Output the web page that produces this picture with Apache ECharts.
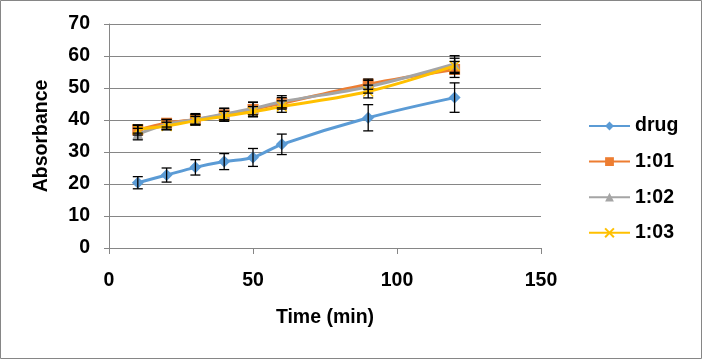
<!DOCTYPE html>
<html><head><meta charset="utf-8">
<script src="https://cdn.jsdelivr.net/npm/echarts@6/dist/echarts.min.js"></script>
<style>html,body{margin:0;padding:0;background:#fff}#c{width:703px;height:360px}</style>
</head><body><div id="c"></div>
<script>
const times = [10, 20, 30, 40, 50, 60, 90, 120];
const seriesNames = ['drug', '1:01', '1:02', '1:03'];
const drug = [20.4, 22.8, 25.2, 27.0, 28.3, 32.4, 40.7, 47.0];
const r1 = [36.9, 39.0, 40.2, 41.6, 43.3, 45.2, 51.2, 55.8];
const r2 = [35.6, 38.6, 40.2, 41.9, 43.6, 45.7, 50.4, 57.5];
const r3 = [37.1, 38.1, 39.8, 41.2, 42.6, 44.2, 48.9, 56.9];
const drugErr = [1.9, 2.2, 2.4, 2.5, 2.8, 3.2, 4.1, 4.6];
const r1Err = [1.6, 1.2, 1.8, 2.0, 2.2, 1.8, 1.6, 2.5];
const r2Err = [1.8, 1.5, 1.5, 1.8, 2.0, 1.9, 2.0, 2.6];
const r3Err = [1.2, 1.2, 1.3, 1.5, 1.6, 1.8, 2.0, 2.4];
const yTicks = [0, 10, 20, 30, 40, 50, 60, 70];
const xTicks = [0, 50, 100, 150];

const FONT = 'Liberation Sans, Arial, sans-serif';
const FS = 19.5;
const colors = ['#5B9BD5', '#ED7D31', '#A5A5A5', '#FFC000'];
const values = [drug, r1, r2, r3];
const errs = [drugErr, r1Err, r2Err, r3Err];
const symbols = ['diamond', 'rect', 'triangle', 'path://M0,0L10,10M10,0L0,10'];
const sizes = [12, 11, 11, 10];

const series = [];
values.forEach((vals, i) => {
  series.push({
    name: seriesNames[i], type: 'line', smooth: 0.35,
    data: times.map((t, k) => [t, vals[k]]),
    symbol: symbols[i], symbolSize: sizes[i],
    lineStyle: {color: colors[i], width: 3},
    itemStyle: i === 3 ? {color: colors[i], borderColor: colors[i], borderWidth: 1.5} : {color: colors[i]},
    z: 3 + i
  });
});
values.forEach((vals, i) => {
  series.push({
    type: 'custom', name: 'err' + i, silent: true,
    data: times.map((t, k) => [t, vals[k] - errs[i][k], vals[k] + errs[i][k]]),
    renderItem: function (params, api) {
      const lo = api.coord([api.value(0), api.value(1)]);
      const hi = api.coord([api.value(0), api.value(2)]);
      const w = 5;
      const st = {stroke: '#000', lineWidth: 1.3};
      return {type: 'group', children: [
        {type: 'line', shape: {x1: lo[0], y1: lo[1], x2: hi[0], y2: hi[1]}, style: st},
        {type: 'line', shape: {x1: lo[0] - w, y1: lo[1], x2: lo[0] + w, y2: lo[1]}, style: st},
        {type: 'line', shape: {x1: hi[0] - w, y1: hi[1], x2: hi[0] + w, y2: hi[1]}, style: st}
      ]};
    },
    z: 10
  });
});

const chart = echarts.init(document.getElementById('c'));
chart.setOption({
  animation: false,
  backgroundColor: '#fff',
  textStyle: {fontFamily: FONT},
  graphic: [{type: 'rect', shape: {x: 0.5, y: 0.5, width: 701, height: 358}, style: {fill: 'none', stroke: '#868686', lineWidth: 1}, silent: true}],
  grid: {left: 109, right: 162, top: 24, bottom: 112},
  legend: {
    data: seriesNames, orient: 'vertical', left: 583, top: 111,
    itemWidth: 41, itemHeight: 11, itemGap: 15.6,
    textStyle: {fontSize: FS, fontWeight: 'bold', color: '#000', fontFamily: FONT}
  },
  xAxis: {
    type: 'value', min: xTicks[0], max: xTicks[xTicks.length - 1], interval: 50,
    name: 'Time (min)', nameLocation: 'middle', nameGap: 60,
    nameTextStyle: {fontSize: FS, fontWeight: 'bold', color: '#000'},
    axisLine: {show: true, lineStyle: {color: '#868686'}},
    axisTick: {show: true, length: 6, lineStyle: {color: '#868686'}},
    axisLabel: {fontSize: FS, fontWeight: 'bold', color: '#000', margin: 23},
    splitLine: {show: false}
  },
  yAxis: {
    type: 'value', min: yTicks[0], max: yTicks[yTicks.length - 1], interval: 10,
    name: 'Absorbance', nameLocation: 'middle', nameGap: 57, nameRotate: 90,
    nameTextStyle: {fontSize: FS, fontWeight: 'bold', color: '#000'},
    axisLine: {show: true, lineStyle: {color: '#868686'}},
    axisTick: {show: true, length: 5, lineStyle: {color: '#868686'}},
    axisLabel: {fontSize: FS, fontWeight: 'bold', color: '#000', margin: 19},
    splitLine: {show: true, lineStyle: {color: '#868686', width: 1}}
  },
  series: series
});
</script></body></html>
